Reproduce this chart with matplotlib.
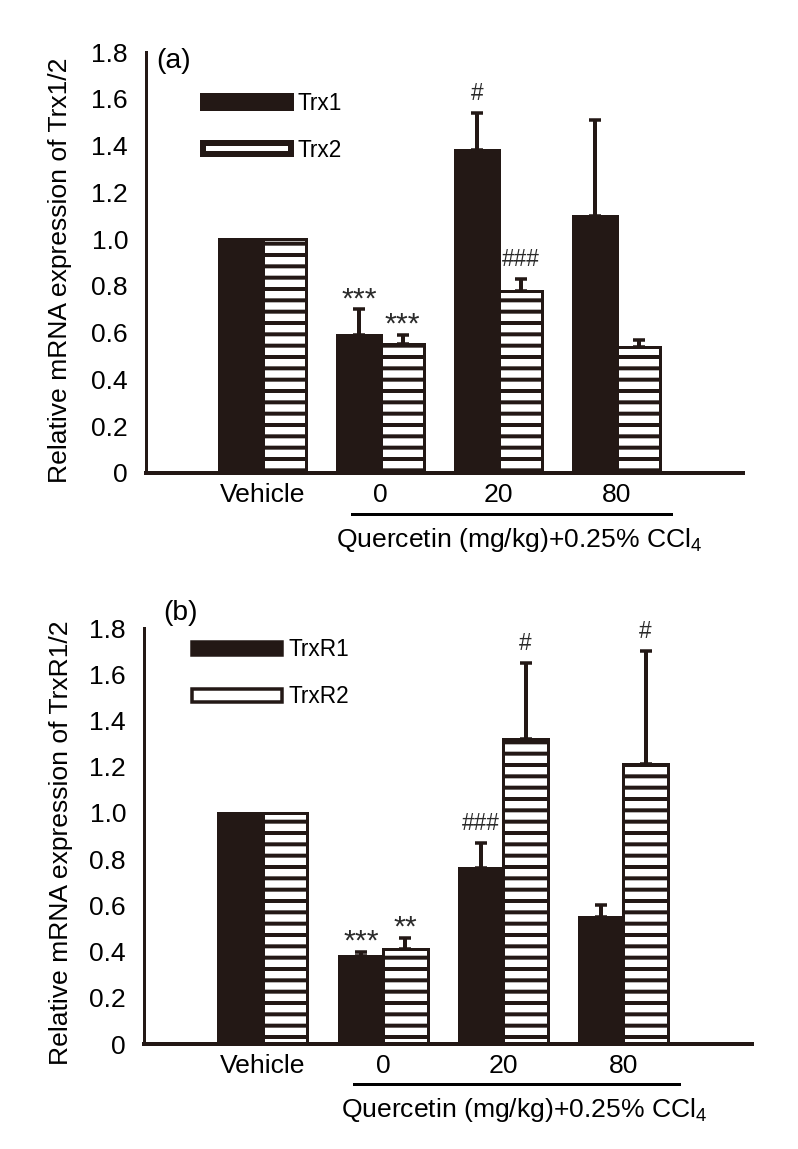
import numpy as np
import matplotlib
matplotlib.use('Agg')
import matplotlib.pyplot as plt
from matplotlib.patches import Patch
import matplotlib.transforms as mtransforms

# ===== Data ===== #

groups = ['Vehicle', '0', '20', '80']
yticks = [0, 0.2, 0.4, 0.6, 0.8, 1.0, 1.2, 1.4, 1.6, 1.8]

# panel (a): Trx1 / Trx2 (mean and top of error bar)
trx1 = [1.0, 0.59, 1.38, 1.10]
trx1_top = [1.0, 0.70, 1.54, 1.51]
trx2 = [1.0, 0.55, 0.78, 0.54]
trx2_top = [1.0, 0.59, 0.83, 0.57]
sig_trx1 = ['', '***', '#', '']
sig_trx2 = ['', '***', '###', '']

# panel (b): TrxR1 / TrxR2
trxr1 = [1.0, 0.38, 0.76, 0.55]
trxr1_top = [1.0, 0.40, 0.87, 0.60]
trxr2 = [1.0, 0.41, 1.32, 1.21]
trxr2_top = [1.0, 0.46, 1.65, 1.70]
sig_trxr1 = ['', '***', '###', '']
sig_trxr2 = ['', '**', '#', '#']

# ===== Style ===== #

DPI = 68
def px(v):
    # pixels -> points at the figure dpi
    return v * 72.0 / DPI

DARK = '#231815'
plt.rcParams['font.family'] = ['Liberation Sans', 'DejaVu Sans']
plt.rcParams['mathtext.default'] = 'regular'
plt.rcParams['hatch.linewidth'] = px(4)
plt.rcParams['hatch.color'] = DARK

fig = plt.figure(figsize=(798 / DPI, 1149 / DPI), dpi=DPI)
W, H = 798.0, 1149.0

width = 0.37
x = np.arange(len(groups))


def draw_panel(ax, s1, s1_top, s2, s2_top, sig1, sig2, names, ylabel, tag,
               leg_anchor, leg_h, leg_lw, tag_xy):
    ax.bar(x - width / 2, s1, width, color=DARK, edgecolor=DARK,
           linewidth=px(3), zorder=2)
    ax.bar(x + width / 2, s2, width, color='white', edgecolor=DARK,
           linewidth=px(3), hatch='-', zorder=2)

    for xs, vals, tops in [(x - width / 2, s1, s1_top), (x + width / 2, s2, s2_top)]:
        up = np.array(tops) - np.array(vals)
        keep = up > 0
        ax.errorbar(xs[keep], np.array(vals)[keep],
                    yerr=[np.zeros(keep.sum()), up[keep]],
                    fmt='none', ecolor=DARK, elinewidth=px(4),
                    capsize=px(6), capthick=px(3.5), zorder=3)

    # significance marks
    for xs, tops, sig in [(x - width / 2, s1_top, sig1), (x + width / 2, s2_top, sig2)]:
        for xi, t, lab in zip(xs, tops, sig):
            if not lab:
                continue
            if '*' in lab:
                ax.annotate(lab, (xi, t), xytext=(0, px(2)), textcoords='offset points',
                            ha='center', va='baseline', fontsize=32, color='#2a2a2a')
            else:
                ax.annotate(lab, (xi, t), xytext=(0, px(13)), textcoords='offset points',
                            ha='center', va='baseline', fontsize=24, color='#2a2a2a')

    ax.set_xlim(-0.99, 4.07)
    ax.set_ylim(0, 1.8)
    ax.set_yticks(yticks)
    ax.set_yticklabels(['0' if v == 0 else '%.1f' % v for v in yticks], fontsize=28)
    ax.set_xticks(list(x) + [-0.99])
    ax.set_xticklabels(groups + [''], fontsize=28)
    ax.tick_params(axis='y', length=0, pad=px(18))
    ax.tick_params(axis='x', direction='in', length=px(12), width=px(3),
                   color=DARK, pad=px(10))
    for s in ['top', 'right']:
        ax.spines[s].set_visible(False)
    ax.spines['left'].set_linewidth(px(3))
    ax.spines['bottom'].set_linewidth(px(4))
    ax.spines['left'].set_color(DARK)
    ax.spines['bottom'].set_color(DARK)

    ax.set_ylabel(ylabel, fontsize=28)

    # group label under the dose ticks
    trans = mtransforms.blended_transform_factory(ax.transData, ax.transAxes)
    ax.plot([0.76, 3.46], [-0.097, -0.097], color='black', lw=px(3),
            transform=trans, clip_on=False)
    ax.text(2.17, -0.159, r'Quercetin (mg/kg)+0.25% CCl$_4$', transform=trans,
            ha='center', va='center', fontsize=28)

    ax.text(tag_xy[0], tag_xy[1], tag, transform=ax.transAxes, ha='left',
            va='center', fontsize=30)

    handles = [Patch(facecolor=DARK, edgecolor=DARK, linewidth=px(leg_lw)),
               Patch(facecolor='white', edgecolor=DARK, linewidth=px(leg_lw))]
    fs = 24
    fpx = fs * DPI / 72.0
    ax.legend(handles, names, loc='upper left', bbox_to_anchor=leg_anchor,
              frameon=False, fontsize=fs, borderpad=0, borderaxespad=0,
              handlelength=(94 - leg_lw) / fpx, handleheight=leg_h / fpx,
              handletextpad=6 / fpx, labelspacing=1.05)


# panel (a)
ax1 = fig.add_axes([146 / W, 1 - 473 / H, (743 - 146) / W, (473 - 52) / H])
draw_panel(ax1, trx1, trx1_top, trx2, trx2_top, sig_trx1, sig_trx2,
           ['Trx1', 'Trx2'], 'Relative mRNA expression of Trx1/2', '(a)',
           (0.0955, 0.905), 9, 6, (0.018, 0.979))
ax1.yaxis.set_label_coords(-0.124, 0.482)

# panel (b)
ax2 = fig.add_axes([144 / W, 1 - 1044 / H, (752 - 144) / W, (1044 - 628) / H])
draw_panel(ax2, trxr1, trxr1_top, trxr2, trxr2_top, sig_trxr1, sig_trxr2,
           ['TrxR1', 'TrxR2'], 'Relative mRNA expression of TrxR1/2', '(b)',
           (0.0785, 0.975), 11.5, 3.5, (0.031, 1.035))
ax2.yaxis.set_label_coords(-0.117, 0.483)

fig.savefig('out.png', dpi=DPI, facecolor='white')
